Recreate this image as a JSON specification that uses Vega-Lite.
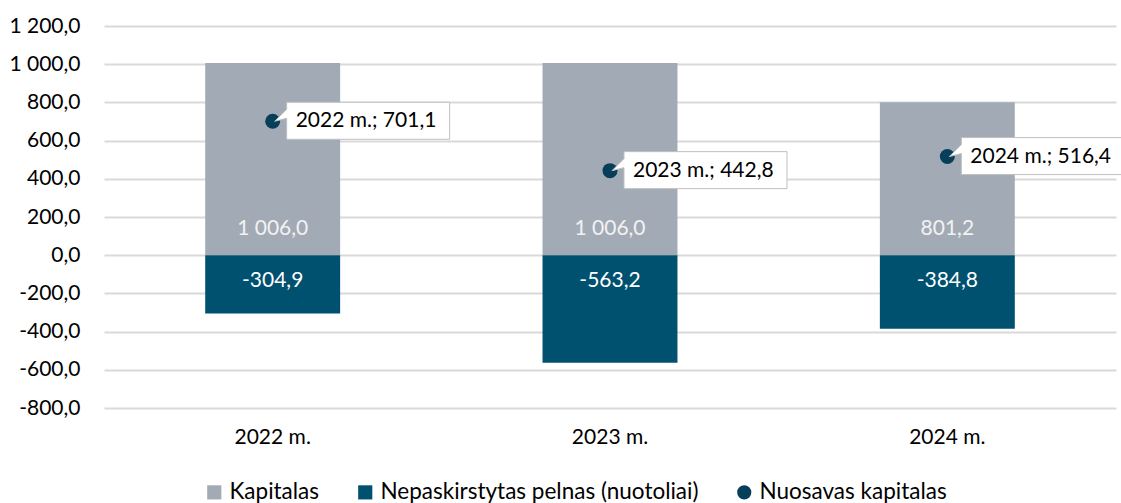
{
  "$schema": "https://vega.github.io/schema/vega-lite/v6.json",
  "autosize": "none",
  "width": 1012,
  "height": 382,
  "padding": {"left": 104, "top": 26, "right": 5, "bottom": 95},
  "background": "white",
  "config": {
    "locale": {"number": {"decimal": ",", "thousands": " ", "grouping": [3], "currency": ["", ""], "minus": "-"}},
    "font": "Lato",
    "view": {"stroke": null}
  },
  "data": {
    "values": [
      {"year": "2022 m.", "series": "Kapitalas", "value": 1006.0},
      {"year": "2023 m.", "series": "Kapitalas", "value": 1006.0},
      {"year": "2024 m.", "series": "Kapitalas", "value": 801.2},
      {"year": "2022 m.", "series": "Nepaskirstytas pelnas (nuotoliai)", "value": -304.9},
      {"year": "2023 m.", "series": "Nepaskirstytas pelnas (nuotoliai)", "value": -563.2},
      {"year": "2024 m.", "series": "Nepaskirstytas pelnas (nuotoliai)", "value": -384.8},
      {"year": "2022 m.", "series": "Nuosavas kapitalas", "value": 701.1},
      {"year": "2023 m.", "series": "Nuosavas kapitalas", "value": 442.8},
      {"year": "2024 m.", "series": "Nuosavas kapitalas", "value": 516.4}
    ]
  },
  "encoding": {
    "x": {
      "field": "year", "type": "nominal", "sort": null,
      "scale": {"paddingInner": 0.6, "paddingOuter": 0.3},
      "axis": {"title": null, "labelAngle": 0, "ticks": false, "domain": false, "labelFontSize": 21, "labelColor": "#000000", "labelPadding": 18, "labelFont": "Lato"}
    },
    "y": {
      "field": "value", "type": "quantitative",
      "scale": {"domain": [-800, 1200], "nice": false},
      "axis": {"title": null, "values": [-800, -600, -400, -200, 0, 200, 400, 600, 800, 1000, 1200], "format": ",.1f", "ticks": false, "domain": false, "labelFontSize": 21, "labelColor": "#000000", "labelPadding": 24, "gridColor": "#d9d9d9", "gridWidth": 2, "labelFont": "Lato"}
    }
  },
  "layer": [
    {
      "transform": [{"filter": "datum.series !== 'Nuosavas kapitalas'"}],
      "mark": {"type": "bar"},
      "encoding": {
        "y": {"field": "value", "type": "quantitative", "stack": null},
        "color": {
          "field": "series", "type": "nominal",
          "scale": {"domain": ["Kapitalas", "Nepaskirstytas pelnas (nuotoliai)", "Nuosavas kapitalas"], "range": ["#A2ABB5", "#00506F", "#073F5A"]},
          "legend": {
            "title": null, "orient": "none", "direction": "horizontal", "legendX": 99, "legendY": 455,
            "labelFontSize": 22.5, "labelColor": "#000000", "symbolSize": 200, "columnPadding": 34, "labelOffset": 4, "labelFont": "Lato", "labelLimit": 500,
            "symbolStrokeWidth": 0,
            "encode": {"symbols": {"update": {"shape": {"signal": "datum.label === 'Nuosavas kapitalas' ? 'circle' : 'square'"}}}}
          }
        }
      }
    },
    {
      "transform": [{"filter": "datum.series === 'Kapitalas'"}],
      "mark": {"type": "text", "color": "#F2F2F2", "fontSize": 21, "dy": -26, "baseline": "middle"},
      "encoding": {
        "y": {"datum": 0},
        "text": {"field": "value", "type": "quantitative", "format": ",.1f"}
      }
    },
    {
      "transform": [{"filter": "datum.series === 'Nepaskirstytas pelnas (nuotoliai)'"}],
      "mark": {"type": "text", "color": "#FFFFFF", "fontSize": 21, "dy": 26, "baseline": "middle"},
      "encoding": {
        "y": {"datum": 0},
        "text": {"field": "value", "type": "quantitative", "format": ",.1f"}
      }
    },
    {
      "transform": [{"filter": "datum.series === 'Nuosavas kapitalas'"}],
      "mark": {"type": "point", "shape": "circle", "filled": true, "size": 225, "opacity": 1},
      "encoding": {
        "color": {"field": "series", "type": "nominal"}
      }
    },
    {
      "transform": [{"filter": "datum.series === 'Nuosavas kapitalas'"}],
      "mark": {
        "type": "point", "filled": true, "fill": "#FFFFFF", "stroke": "#BFBFBF", "strokeWidth": 1, "opacity": 1, "fillOpacity": 1, "strokeOpacity": 1,
        "size": 40000,
        "shape": "M0.14,-0.19 L1.77,-0.19 L1.77,0.18 L0.14,0.18 L0.14,-0.03 L0.02,0.0 L0.14,-0.12 Z"
      },
      "encoding": {}
    },
    {
      "transform": [
        {"filter": "datum.series === 'Nuosavas kapitalas'"},
        {"calculate": "datum.year + '; ' + format(datum.value, ',.1f')", "as": "label"}
      ],
      "mark": {"type": "text", "align": "left", "baseline": "middle", "dx": 23, "fontSize": 21, "color": "#000000"},
      "encoding": {
        "text": {"field": "label", "type": "nominal"}
      }
    }
  ]
}
